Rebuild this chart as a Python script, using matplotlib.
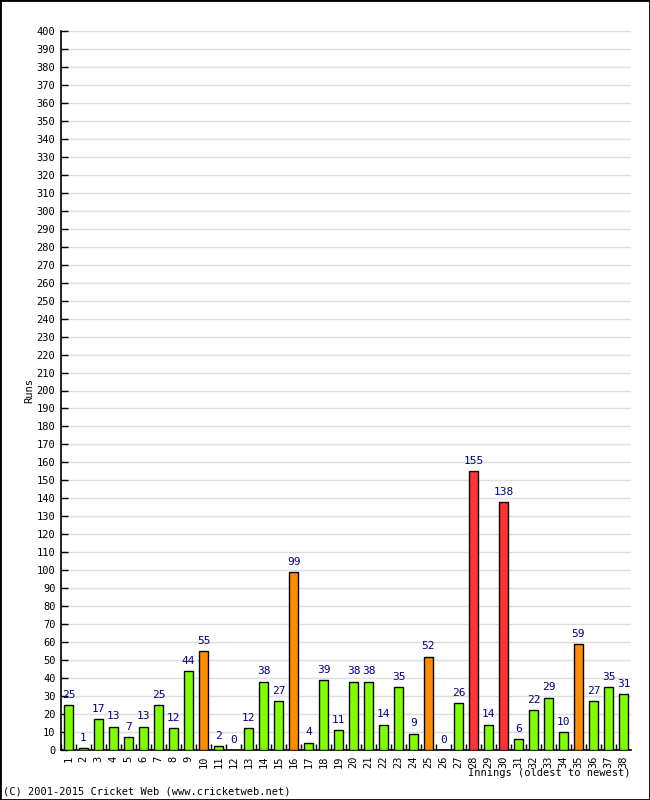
import matplotlib
matplotlib.use("Agg")
import matplotlib.pyplot as plt
from matplotlib.patches import Rectangle

innings = list(range(1, 39))
runs = [25, 1, 17, 13, 7, 13, 25, 12, 44, 55, 2, 0, 12, 38, 27, 99, 4, 39, 11, 38,
        38, 14, 35, 9, 52, 0, 26, 155, 14, 138, 6, 22, 29, 10, 59, 27, 35, 31]
y_ticks = list(range(0, 401, 10))

def colour(r):
    if r >= 100:
        return "#FF3333"
    if r >= 50:
        return "#FF8C00"
    return "#80FF00"

fig = plt.figure(figsize=(6.5, 8.0), dpi=100)
fig.patches.append(Rectangle((0, 0), 1, 1, transform=fig.transFigure, fill=False,
                             edgecolor="black", linewidth=2))
ax = fig.add_axes([61/650, 50/800, (631-61)/650, (750-31)/800])

ax.bar(innings, runs, width=0.66, color=[colour(r) for r in runs],
       edgecolor="black", linewidth=1, zorder=3)
for x, r in zip(innings, runs):
    ax.text(x, r + 3, str(r), ha="center", va="bottom", color="#000080",
            fontsize=8, fontfamily="DejaVu Sans Mono", zorder=4)

ax.set_xlim(0.5, 38.5)
ax.set_ylim(0, 400)
ax.set_yticks(y_ticks)
ax.set_yticklabels([str(v) for v in y_ticks], fontsize=7.5, fontfamily="DejaVu Sans Mono")
ax.yaxis.grid(True, color="#DDDDDD", linewidth=1, zorder=0)
ax.tick_params(axis="y", direction="in", length=5, width=1, pad=4)

ax.set_xticks([i for i in innings])
ax.set_xticklabels([str(i) for i in innings], rotation=90, fontsize=7.5,
                   fontfamily="DejaVu Sans Mono")
ax.set_xticks([i + 0.5 for i in range(0, 38)], minor=True)
ax.tick_params(axis="x", which="major", length=0, pad=4)
ax.tick_params(axis="x", which="minor", direction="in", length=4, width=1)

for s in ["top", "right"]:
    ax.spines[s].set_visible(False)
ax.spines["left"].set_linewidth(1.2)
ax.spines["bottom"].set_linewidth(1.2)

ax.set_ylabel("Runs", fontsize=7.5, fontfamily="DejaVu Sans Mono", labelpad=2)
fig.text(630/650, 1 - 773/800, "Innings (oldest to newest)", ha="right", va="center",
         fontsize=7.5, fontfamily="DejaVu Sans Mono")
fig.text(3/650, 1 - 792/800, "(C) 2001-2015 Cricket Web (www.cricketweb.net)",
         ha="left", va="center", fontsize=7.5, fontfamily="DejaVu Sans Mono")

fig.savefig("out.png", dpi=100)
